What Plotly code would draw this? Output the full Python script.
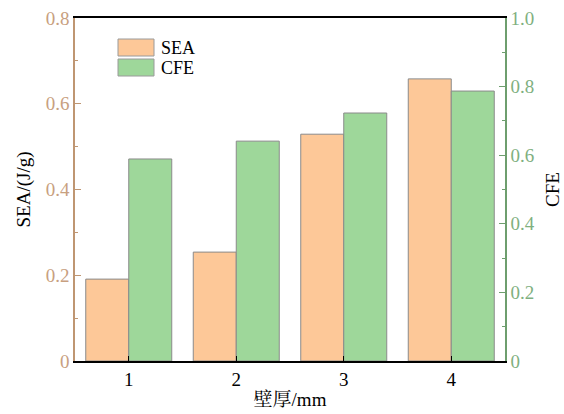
import plotly.graph_objects as go

categories = ["1", "2", "3", "4"]
x_vals = [1, 2, 3, 4]
sea = [0.191, 0.254, 0.529, 0.658]
cfe = [0.589, 0.641, 0.723, 0.787]
series_names = ["SEA", "CFE"]
series_colors = ["#FDC898", "#9ED79A"]

left_tickvals = [0, 0.2, 0.4, 0.6, 0.8]
left_ticktext = ["0", "0.2", "0.4", "0.6", "0.8"]
right_tickvals = [0, 0.2, 0.4, 0.6, 0.8, 1.0]
right_ticktext = ["0", "0.2", "0.4", "0.6", "0.8", "1.0"]

brown_line = "#BF9672"
brown_text = "#C8A080"
green_line = "#6E9E6E"
green_text = "#7FB07F"
font_family = "Liberation Serif, Noto Serif CJK SC, Noto Sans CJK SC, serif"

fig = go.Figure()
fig.add_trace(go.Bar(x=x_vals, y=sea, name=series_names[0], yaxis="y", offsetgroup="1",
                     showlegend=False,
                     marker=dict(color=series_colors[0], line=dict(color="#8A8A8A", width=1))))
fig.add_trace(go.Bar(x=x_vals, y=cfe, name=series_names[1], yaxis="y2", offsetgroup="2",
                     showlegend=False,
                     marker=dict(color=series_colors[1], line=dict(color="#8A8A8A", width=1))))

# custom legend (rectangular swatches), positioned in pixels relative to plot area
L, R, T, B = 75, 59, 18, 53
W, H = 564, 414
pw, ph = W - L - R, H - T - B
def px(x):
    return (x - L) / pw
def py(y):
    return (H - B - y) / ph

legend_rows = [(39, 56), (59, 76)]
for (y0, y1), name, col in zip(legend_rows, series_names, series_colors):
    fig.add_shape(type="rect", xref="paper", yref="paper",
                  x0=px(118), x1=px(154), y0=py(y1), y1=py(y0),
                  fillcolor=col, line=dict(color="#9A9A9A", width=1))
    fig.add_annotation(xref="paper", yref="paper", x=px(159), y=py((y0 + y1) / 2),
                       text=name, showarrow=False, xanchor="left", yanchor="middle",
                       font=dict(size=18, color="black"))

fig.update_layout(
    width=W, height=H,
    margin=dict(l=L, r=R, t=T, b=B, autoexpand=False),
    paper_bgcolor="white", plot_bgcolor="white",
    barmode="group", bargap=0.2, bargroupgap=0,
    font=dict(family=font_family, size=19, color="black"),
    showlegend=False,
    xaxis=dict(
        range=[0.5, 4.5], tickvals=x_vals, ticktext=categories, automargin=False,
        showline=True, linecolor="black", linewidth=1.5, mirror=True,
        ticks="inside", ticklen=5, tickcolor="black",
        showgrid=False, zeroline=False,
        title=dict(text="壁厚/mm", font=dict(size=19), standoff=4),
        tickfont=dict(size=19, color="black"),
    ),
    yaxis=dict(
        range=[0, 0.8], tickvals=left_tickvals, ticktext=left_ticktext, automargin=False,
        showline=True, linecolor=brown_line, linewidth=1.5,
        ticks="inside", ticklen=6, tickcolor=brown_line,
        minor=dict(ticks="inside", ticklen=3, tickcolor=brown_line, dtick=0.1),
        showgrid=False, zeroline=False,
        tickfont=dict(size=19, color=brown_text),
        title=dict(text="SEA/(J/g)", font=dict(size=19, color="black"), standoff=10),
    ),
    yaxis2=dict(
        range=[0, 1.0], tickvals=right_tickvals, ticktext=right_ticktext, automargin=False,
        overlaying="y", side="right",
        showline=True, linecolor=green_line, linewidth=1.5,
        ticks="inside", ticklen=6, tickcolor=green_line,
        minor=dict(ticks="inside", ticklen=3, tickcolor=green_line, dtick=0.1),
        showgrid=False, zeroline=False,
        tickfont=dict(size=19, color=green_text),
        title=dict(text="CFE", font=dict(size=19, color="black"), standoff=12),
    ),
)

fig.write_html("out.html")
